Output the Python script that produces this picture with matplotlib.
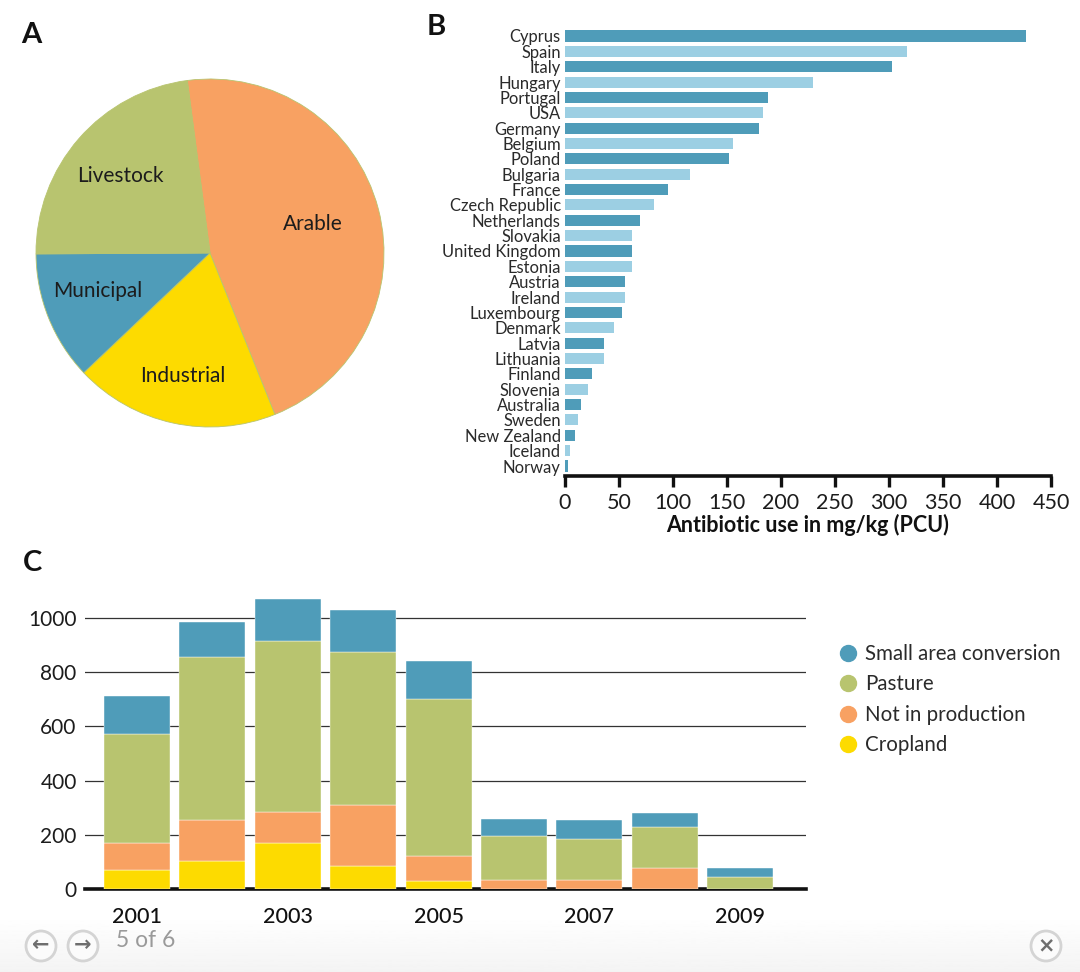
import numpy as np
import matplotlib
matplotlib.use("Agg")
import matplotlib.pyplot as plt
from matplotlib.lines import Line2D
from matplotlib.patches import Circle

plt.rcParams['font.family'] = ['Lato', 'DejaVu Sans']

# Panel A
pie_labels = ['Arable', 'Industrial', 'Municipal', 'Livestock']
pie_values = [46, 19, 12, 23]
pie_colors = ['#f8a162', '#fddb00', '#4f9cb9', '#b8c46f']

# Panel B
countries = ['Cyprus', 'Spain', 'Italy', 'Hungary', 'Portugal', 'USA', 'Germany', 'Belgium',
             'Poland', 'Bulgaria', 'France', 'Czech Republic', 'Netherlands', 'Slovakia',
             'United Kingdom', 'Estonia', 'Austria', 'Ireland', 'Luxembourg', 'Denmark',
             'Latvia', 'Lithuania', 'Finland', 'Slovenia', 'Australia', 'Sweden',
             'New Zealand', 'Iceland', 'Norway']
use_mgkg = [427, 317, 303, 230, 188, 183, 180, 156, 152, 116, 95, 82, 69, 62, 62, 62,
            56, 56, 53, 45, 36, 36, 25, 21, 15, 12, 9, 5, 3]
bar_dark, bar_light = '#4f9cb9', '#9ccfe3'

# Panel C
years = [2001, 2002, 2003, 2004, 2005, 2006, 2007, 2008, 2009]
year_labels = ['2001', '', '2003', '', '2005', '', '2007', '', '2009']
cropland = [70, 103, 170, 85, 30, 0, 0, 0, 0]
not_in_production = [100, 152, 114, 225, 92, 35, 35, 77, 0]
pasture = [402, 601, 631, 565, 579, 161, 150, 152, 44]
small_area = [140, 129, 155, 155, 140, 62, 70, 51, 33]

W, H = 1080, 972
fig = plt.figure(figsize=(W / 100, H / 100), dpi=100, facecolor='white')


def px_axes(x0, y0, x1, y1, **kw):
    return fig.add_axes([x0 / W, 1 - y1 / H, (x1 - x0) / W, (y1 - y0) / H], **kw)


INK = '#1c1c1c'

# Background / overlay in pixel coordinates
bg = px_axes(0, 0, W, H, zorder=0)
grad = np.linspace(1.0, 0.955, 60).reshape(-1, 1)
bg.imshow(grad, extent=(0, W, H, 915), cmap='gray', vmin=0, vmax=1, aspect='auto', zorder=0)
bg.set_xlim(0, W)
bg.set_ylim(H, 0)
bg.axis('off')
for letter, x, y in [('A', 31, 35), ('B', 436, 27), ('C', 32, 563)]:
    bg.text(x, y, letter, fontsize=21, fontweight='bold', ha='center', va='center', color='#111111')

# Panel A
axA = px_axes(36, 79, 384, 427, zorder=2)
wedges, _ = axA.pie(pie_values, colors=pie_colors, startangle=97.5, counterclock=False, radius=1,
                    wedgeprops=dict(edgecolor='#b8c46f', linewidth=0.6))
axA.set_xlim(-1, 1)
axA.set_ylim(-1, 1)
for w in wedges:
    w.set_clip_on(False)
for lab, xy in zip(pie_labels, [(0.59, 0.165), (-0.155, -0.707), (-0.644, -0.218), (-0.517, 0.443)]):
    axA.text(xy[0], xy[1], lab, fontsize=15, ha='center', va='center', color=INK)

# Panel B
axB = px_axes(565, 28.3, 1051, 476, zorder=2)
ypos = np.arange(len(countries))
colors = [bar_dark if i % 2 == 0 else bar_light for i in ypos]
axB.barh(ypos, use_mgkg, height=0.72, color=colors)
axB.set_xlim(0, 450)
axB.set_ylim(len(countries) - 1 + 0.65, -0.5)
axB.set_yticks(ypos, countries)
axB.tick_params(axis='y', length=0, pad=3, labelsize=11.9, labelcolor='#2a2a2a')
axB.set_xticks(range(0, 451, 50))
axB.tick_params(axis='x', length=8, width=2.4, labelsize=15.5, pad=4, color='#111111', labelcolor=INK)
for s in ['top', 'right', 'left']:
    axB.spines[s].set_visible(False)
axB.spines['bottom'].set_linewidth(2.6)
axB.spines['bottom'].set_color('#111111')
axB.set_xlabel('Antibiotic use in mg/kg (PCU)', fontsize=15.5, fontweight='bold', color='#111111', labelpad=1)

# Panel C
axC = px_axes(85, 590, 806, 889, zorder=2)
x = np.array(years)
series = [('Cropland', cropland, '#fddb00'), ('Not in production', not_in_production, '#f8a162'),
          ('Pasture', pasture, '#b8c46f'), ('Small area conversion', small_area, '#4f9cb9')]
bottom = np.zeros(len(years))
for name, vals, col in series:
    axC.bar(x, vals, bottom=bottom, width=0.875, color=col, edgecolor='white', linewidth=0.3, zorder=3)
    bottom += np.array(vals)
axC.set_xlim(2001 - (137 - 85) / 75.4, 2001 + (806 - 137) / 75.4)
axC.set_ylim(0, 299 / 0.271)
axC.set_yticks(range(0, 1001, 200))
axC.yaxis.grid(True, color='#333333', linewidth=0.9, zorder=1)
axC.set_axisbelow(True)
axC.tick_params(axis='y', length=0, pad=6, labelsize=15, labelcolor=INK)
axC.set_xticks(years, year_labels)
axC.tick_params(axis='x', length=0, pad=13, labelsize=15.5, labelcolor='#111111')
for lbl in axC.get_xticklabels():
    lbl.set_fontweight('medium')
for s in ['top', 'right', 'left']:
    axC.spines[s].set_visible(False)
axC.spines['bottom'].set_linewidth(2.6)
axC.spines['bottom'].set_color('#111111')

handles = [Line2D([], [], marker='o', linestyle='none', markersize=11.5, color=col, label=name)
           for name, _, col in reversed(series)]
fig.legend(handles=handles, loc='upper left', bbox_to_anchor=(838 / W, 1 - 644 / H), frameon=False,
           fontsize=14.8, labelspacing=0.51, handlelength=1, handletextpad=0.3,
           labelcolor='#2a2a2a', borderaxespad=0, borderpad=0)

# Viewer controls
ui = px_axes(0, 0, W, H, zorder=3)
ui.set_xlim(0, W)
ui.set_ylim(H, 0)
ui.axis('off')
ui.patch.set_alpha(0)
for cx, glyph in [(41, '\u2190'), (83, '\u2192'), (1046, '\u00d7')]:
    ui.add_patch(Circle((cx, 946), 15, facecolor='#fbfbfb', edgecolor='#d4d4d4', linewidth=2))
    ui.text(cx, 945, glyph, fontsize=15, fontweight='bold', ha='center', va='center',
            color='#6e6e6e', family='DejaVu Sans')
ui.text(116, 940, '5 of 6', fontsize=16.5, ha='left', va='center', color='#9a9a9a')

fig.savefig('out.png', dpi=100)
